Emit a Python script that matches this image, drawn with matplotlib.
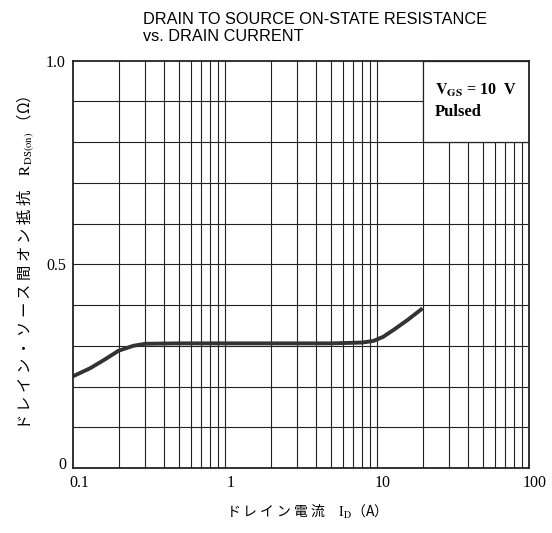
import matplotlib
matplotlib.use('Agg')
import matplotlib.pyplot as plt
import matplotlib.transforms as mtransforms
from matplotlib.patches import Rectangle
import numpy as np

plt.rcParams['mathtext.fontset'] = 'stix'

# Curve: drain current (A) vs R_DS(on) (ohm)
drain_current = [0.1, 0.13, 0.16, 0.2, 0.25, 0.3, 0.5, 1, 2, 5, 8, 9.5, 11, 13, 16, 20]
r_ds_on = [0.225, 0.245, 0.265, 0.288, 0.300, 0.305, 0.306, 0.306, 0.306, 0.306,
           0.308, 0.312, 0.322, 0.340, 0.364, 0.392]

x_ticks = [0.1, 1, 10, 100]
x_tick_labels = ['0.1', '1', '10', '100']
y_ticks = [0, 0.5, 1.0]
y_tick_labels = ['0', '0.5', '1.0']

title_lines = ['DRAIN TO SOURCE ON-STATE RESISTANCE', 'vs. DRAIN CURRENT']
x_label_jp = 'ドレイン電流'
y_label_jp = 'ドレイン・ソース間オン抵抗'

fig = plt.figure(figsize=(5.52, 5.33), dpi=100)
ax = fig.add_axes([0.132, 0.122, 0.826, 0.764])

ax.set_xscale('log')
ax.set_xlim(0.1, 100)
ax.set_ylim(0, 1.0)

# Grid: every 1..9 per decade, every 0.1 vertically
v_lines = [m * 10.0 ** e for e in (-1, 0, 1) for m in range(2, 10)] + [1, 10]
for xv in v_lines:
    ax.axvline(xv, color='#222222', linewidth=0.8, zorder=1)
for yv in np.arange(0.1, 1.0, 0.1):
    ax.axhline(yv, color='#222222', linewidth=0.8, zorder=1)

# Box for the test condition
ax.add_patch(Rectangle((20, 0.8), 80, 0.2, facecolor='white', edgecolor='#222222',
                       linewidth=0.9, zorder=2))
ax.text(24, 0.905, r'$\mathbf{V_{GS}}$ = 10  V', fontsize=11.5, fontweight='bold',
        family='Liberation Serif', zorder=3, va='bottom')
ax.text(24, 0.893, 'Pulsed', fontsize=12, fontweight='bold',
        family='Liberation Serif', zorder=3, va='top')

ax.plot(drain_current, r_ds_on, color='#333333', linewidth=2.8, zorder=4,
        solid_capstyle='butt')

for s in ax.spines.values():
    s.set_linewidth(1.3)
    s.set_color('#222222')
    s.set_zorder(5)

ax.set_xticks(x_ticks)
ax.set_xticklabels(x_tick_labels, family='Liberation Serif', fontsize=11.5)
ax.xaxis.set_minor_locator(matplotlib.ticker.NullLocator())
ax.set_yticks(y_ticks)
ax.set_yticklabels(y_tick_labels, family='Liberation Serif', fontsize=11.5)
ax.tick_params(length=0, pad=5)

shift = mtransforms.ScaledTranslation(6 / 100, 0, fig.dpi_scale_trans)
for lab in ax.get_xticklabels():
    lab.set_transform(lab.get_transform() + shift)
ylabs = ax.get_yticklabels()
ylabs[0].set_transform(ylabs[0].get_transform() +
                       mtransforms.ScaledTranslation(0, 5 / 100, fig.dpi_scale_trans))

fig.text(143 / 552, 1 - 24 / 533, title_lines[0], family='Liberation Sans',
         fontsize=11.7, va='baseline')
fig.text(143 / 552, 1 - 41 / 533, title_lines[1], family='Liberation Sans',
         fontsize=11.7, va='baseline')

# Japanese labels are typeset with wide letter spacing
fig.text(303 / 552, 1 - 512 / 533,
         ' '.join(x_label_jp) + '　$\\mathrm{I_D}$（A）',
         family='Noto Sans CJK JP', fontsize=10, ha='center', va='center')
fig.text(25 / 552, 1 - 263 / 533,
         ' '.join(y_label_jp) + '　$\\mathrm{R_{DS(on)}}$ （Ω）',
         family='Noto Sans CJK JP', fontsize=11, ha='center', va='center',
         rotation=90)

fig.savefig('out.png', dpi=100)
